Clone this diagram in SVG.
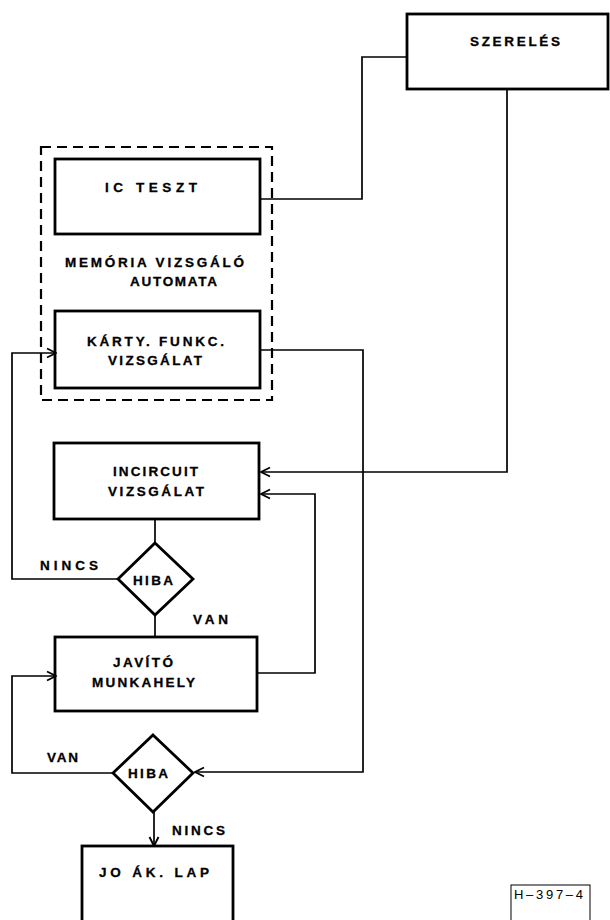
<svg xmlns="http://www.w3.org/2000/svg" width="610" height="920" viewBox="0 0 610 920">
<style>
.box{fill:none;stroke:#000;stroke-width:2.8}
.dash{fill:none;stroke:#000;stroke-width:2.2;stroke-dasharray:10 6}
.c{fill:none;stroke:#000;stroke-width:1.7;stroke-linejoin:miter}
.t{font-family:"Liberation Sans",Arial,sans-serif;font-weight:bold;font-size:13.5px;fill:#000;stroke:#000;stroke-width:0.3}
.r{font-family:"Liberation Sans",Arial,sans-serif;font-size:13px;fill:#000}
</style>
<defs>
<marker id="arr" viewBox="0 0 12 12" refX="11" refY="6" markerWidth="12" markerHeight="12" markerUnits="userSpaceOnUse" orient="auto">
<path d="M2,1.5 L11,6 L2,10.5" fill="none" stroke="#000" stroke-width="1.9"/>
</marker>
</defs>
<rect width="610" height="920" fill="#fff"/>

<g id="connectors">
<polyline class="c" points="259,199 362,199 362,57 407,57"/>
<polyline class="c" points="507,89 507,472 261,472" marker-end="url(#arr)"/>
<polyline class="c" points="260,350 363,350 363,772 195,772" marker-end="url(#arr)"/>
<line class="c" x1="155" y1="519" x2="155" y2="543"/>
<polyline class="c" points="118,579 12,579 12,353 56,353" marker-end="url(#arr)"/>
<line class="c" x1="155" y1="615" x2="155" y2="637"/>
<polyline class="c" points="257,673 315,673 315,494 261,494" marker-end="url(#arr)"/>
<polyline class="c" points="112,773 12,773 12,676 56,676" marker-end="url(#arr)"/>
<line class="c" x1="154" y1="812" x2="154" y2="846" marker-end="url(#arr)"/>
<text class="t" x="40" y="570" textLength="58" lengthAdjust="spacing">NINCS</text>
<text class="t" x="193" y="624" textLength="35" lengthAdjust="spacing">VAN</text>
<text class="t" x="47" y="762" textLength="31" lengthAdjust="spacing">VAN</text>
<text class="t" x="172" y="835" textLength="53" lengthAdjust="spacing">NINCS</text>
</g>

<g id="szereles">
<rect class="box" x="407" y="14" width="201" height="75"/>
<text class="t" x="470" y="46" textLength="90" lengthAdjust="spacing">SZERELÉS</text>
</g>

<g id="memoria-automata">
<rect class="dash" x="41" y="147" width="231" height="253"/>
<text class="t" x="65" y="267" textLength="179" lengthAdjust="spacing">MEMÓRIA VIZSGÁLÓ</text>
<text class="t" x="130" y="286" textLength="87" lengthAdjust="spacing">AUTOMATA</text>
</g>

<g id="ic-teszt">
<rect class="box" x="55" y="159" width="205" height="75"/>
<text class="t" x="105" y="192" textLength="92" lengthAdjust="spacing">IC  TESZT</text>
</g>

<g id="karty-funkc">
<rect class="box" x="55" y="311" width="205" height="77"/>
<text class="t" x="87" y="346" textLength="137" lengthAdjust="spacing">KÁRTY. FUNKC.</text>
<text class="t" x="108" y="365" textLength="94" lengthAdjust="spacing">VIZSGÁLAT</text>
</g>

<g id="incircuit">
<rect class="box" x="54" y="443" width="205" height="76"/>
<text class="t" x="113" y="476" textLength="85" lengthAdjust="spacing">INCIRCUIT</text>
<text class="t" x="108" y="496" textLength="96" lengthAdjust="spacing">VIZSGÁLAT</text>
</g>

<g id="hiba1">
<polygon class="box" points="155,543 193,579 155,615 118,579"/>
<text class="t" x="133" y="585" textLength="40" lengthAdjust="spacing">HIBA</text>
</g>

<g id="javito">
<rect class="box" x="55" y="637" width="202" height="74"/>
<text class="t" x="113" y="667" textLength="60" lengthAdjust="spacing">JAVÍTÓ</text>
<text class="t" x="92" y="687" textLength="103" lengthAdjust="spacing">MUNKAHELY</text>
</g>

<g id="hiba2">
<polygon class="box" points="153,735 193,773 153,812 113,773"/>
<text class="t" x="128" y="778" textLength="40" lengthAdjust="spacing">HIBA</text>
</g>

<g id="jo-ak-lap">
<rect class="box" x="82" y="846" width="151" height="90"/>
<text class="t" x="99" y="877" textLength="110" lengthAdjust="spacing">JO  ÁK. LAP</text>
</g>

<g id="label-h397">
<rect x="511" y="885" width="79" height="50" fill="none" stroke="#000" stroke-width="1"/>
<text class="r" x="514" y="899" textLength="69" lengthAdjust="spacing">H–397–4</text>
</g>
</svg>
